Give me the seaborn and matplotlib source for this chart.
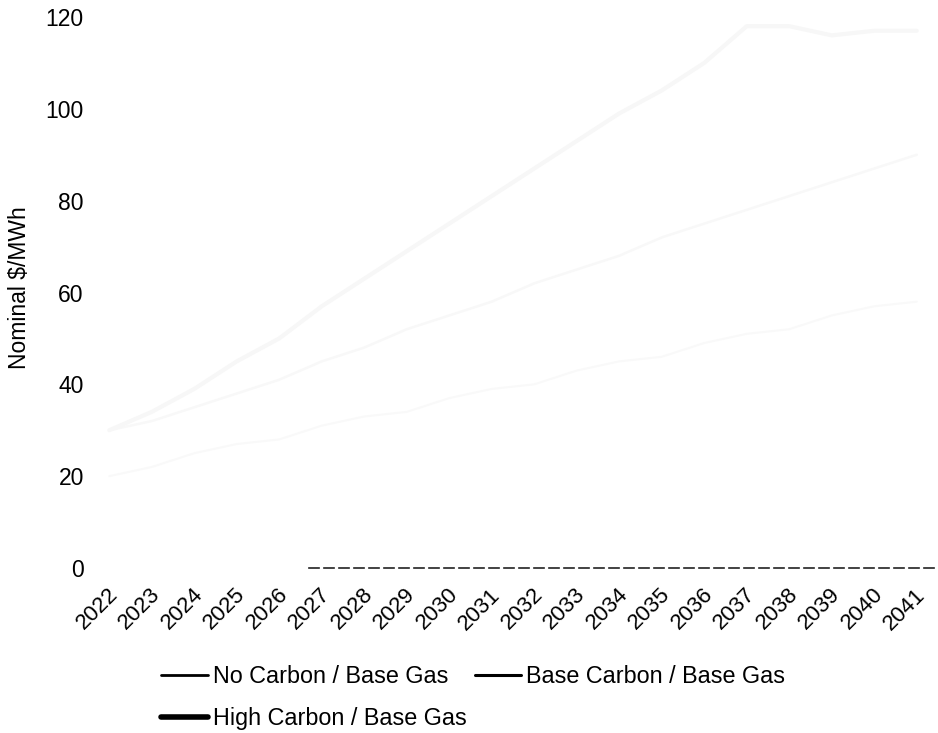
import numpy as np
import pandas as pd
import matplotlib
matplotlib.use("Agg")
import matplotlib.pyplot as plt
import matplotlib.transforms as mtransforms
from matplotlib.lines import Line2D
import seaborn as sns

# values read (roughly) off the faded scan
years = list(range(2022, 2042))
no_carbon = [20, 22, 25, 27, 28, 31, 33, 34, 37, 39, 40, 43, 45, 46, 49, 51, 52, 55, 57, 58]
base_carbon = [30, 32, 35, 38, 41, 45, 48, 52, 55, 58, 62, 65, 68, 72, 75, 78, 81, 84, 87, 90]
high_carbon = [30, 34, 39, 45, 50, 57, 63, 69, 75, 81, 87, 93, 99, 104, 110, 118, 118, 116, 117, 117]
labels = ["No Carbon / Base Gas", "Base Carbon / Base Gas", "High Carbon / Base Gas"]
y_ticks = [0, 20, 40, 60, 80, 100, 120]

df = pd.DataFrame({"Year": years * 3,
                   "Price": no_carbon + base_carbon + high_carbon,
                   "Scenario": [labels[0]] * 20 + [labels[1]] * 20 + [labels[2]] * 20})

sns.set_style("white", {"text.color": "black", "xtick.color": "black",
                        "ytick.color": "black", "axes.labelcolor": "black"})
plt.rcParams["font.family"] = ["Liberation Sans", "DejaVu Sans"]

fig = plt.figure(figsize=(9.38, 7.33), dpi=100)
ax = fig.add_axes([88 / 938, 165 / 733, (938 - 88) / 938, (568 - 17) / 733])

# the lines are almost washed out in the scan
pale = {labels[0]: "#f9f9f9", labels[1]: "#f8f8f8", labels[2]: "#f7f7f7"}
widths = {labels[0]: 1.5, labels[1]: 1.8, labels[2]: 3.0}
for lab in labels:
    sub = df[df["Scenario"] == lab]
    sns.lineplot(data=sub, x="Year", y="Price", ax=ax, color=pale[lab],
                 linewidth=widths[lab], legend=False)

ax.set_xlim(2021.5, 2041.5)
ax.set_ylim(0, 120)
ax.set_xticks(years)
ax.set_yticks(y_ticks)
ax.tick_params(axis="both", length=0, pad=3)
ax.set_yticklabels([str(v) for v in y_ticks], fontsize=16.5)
ax.set_xticklabels([str(y) for y in years], fontsize=16, rotation=45,
                   ha="right", va="top", rotation_mode="anchor")
# nudge the rotated year labels down (after tick_params, which resets transforms)
offset = mtransforms.ScaledTranslation(-2 / 100, -12 / 100, fig.dpi_scale_trans)
for t in ax.get_xticklabels():
    t.set_transform(t.get_transform() + offset)
ax.set_xlabel("")
ax.set_ylabel("Nominal $/MWh", fontsize=16.5)
ax.yaxis.set_label_coords(-0.067, 0.509)

for s in ["left", "right", "top"]:
    ax.spines[s].set_visible(False)
ax.spines["bottom"].set_bounds(2026.7, 2041.4)
ax.spines["bottom"].set_color("#222222")
ax.spines["bottom"].set_linestyle((0, (6, 3)))
ax.spines["bottom"].set_linewidth(1.2)

handles = [Line2D([], [], color="black", linewidth=2.0),
           Line2D([], [], color="black", linewidth=4.0),
           Line2D([], [], color="black", linewidth=2.2)]
fig.legend(handles, [labels[0], labels[2], labels[1]], ncol=2,
           loc="upper left", bbox_to_anchor=(152 / 938, 1 - 656 / 733),
           frameon=False, fontsize=16.8, handlelength=2.0, handletextpad=0.2,
           columnspacing=0.35, labelspacing=0.8, borderaxespad=0)

fig.savefig("out.png", dpi=100)
